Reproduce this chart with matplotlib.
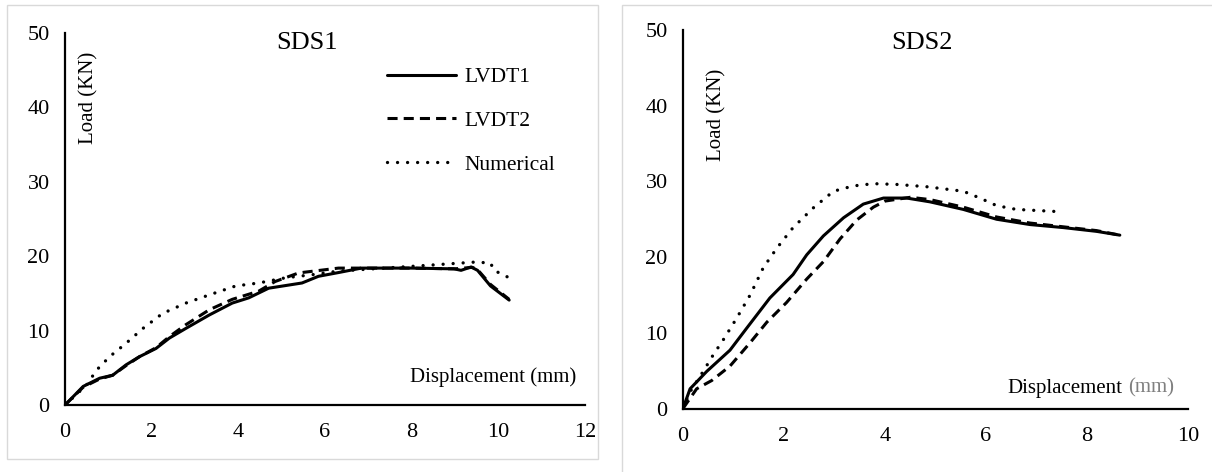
import matplotlib.pyplot as plt
from matplotlib.patches import Rectangle

plt.rcParams['font.family'] = ['Liberation Serif', 'DejaVu Serif']

# SDS1 data (displacement mm, load kN)
sds1_lvdt1_x = [0, 0.42, 0.80, 1.1, 1.41, 1.72, 2.1, 2.41, 2.79, 3.33, 3.86, 4.24, 4.70,
                5.47, 5.85, 6.31, 6.84, 7.99, 8.98, 9.14, 9.37, 9.52, 9.82, 10.25]
sds1_lvdt1_y = [0, 2.5, 3.6, 4.0, 5.4, 6.5, 7.6, 9.0, 10.3, 12.1, 13.7, 14.4, 15.7,
                16.4, 17.3, 17.8, 18.4, 18.4, 18.3, 18.1, 18.55, 18.1, 16.0, 14.1]
sds1_lvdt2_x = [0, 0.42, 0.80, 1.1, 1.41, 1.72, 2.1, 2.41, 2.79, 3.33, 3.86, 4.47, 4.85,
                5.39, 6.31, 7.0, 8.0, 9.0, 9.4, 9.52, 9.82, 10.25]
sds1_lvdt2_y = [0, 2.4, 3.5, 4.0, 5.3, 6.5, 7.7, 9.2, 10.8, 12.8, 14.2, 15.3, 16.6,
                17.75, 18.4, 18.4, 18.4, 18.3, 18.5, 18.2, 16.2, 14.2]
sds1_num_x = [0, 0.5, 0.73, 1.03, 1.41, 1.8, 2.25, 2.79, 3.33, 3.94, 4.47, 5.09, 5.69,
              6.31, 7.1, 7.91, 8.68, 9.44, 9.82, 9.9, 10.25]
sds1_num_y = [0, 2.7, 4.7, 6.5, 8.3, 10.3, 12.3, 13.7, 14.8, 16.0, 16.4, 17.1, 17.5,
              18.0, 18.3, 18.6, 18.9, 19.2, 19.1, 18.1, 17.1]

# SDS2 data
sds2_lvdt1_x = [0, 0.14, 0.47, 0.93, 1.26, 1.72, 2.18, 2.45, 2.78, 3.18, 3.57, 3.97,
                4.43, 4.89, 5.55, 6.21, 6.87, 7.53, 8.19, 8.65]
sds2_lvdt1_y = [0, 2.6, 4.9, 7.7, 10.6, 14.6, 17.7, 20.3, 22.8, 25.2, 27.0, 27.8,
                27.8, 27.3, 26.3, 25.0, 24.3, 23.9, 23.4, 22.9]
sds2_lvdt2_x = [0, 0.27, 0.57, 0.93, 1.33, 1.66, 2.05, 2.45, 2.78, 3.11, 3.44, 3.77,
                4.0, 4.5, 4.89, 5.55, 6.21, 6.87, 7.53, 8.19, 8.65]
sds2_lvdt2_y = [0, 2.6, 3.7, 5.6, 8.7, 11.4, 14.0, 17.1, 19.4, 22.4, 24.9, 26.6,
                27.4, 27.9, 27.6, 26.6, 25.3, 24.5, 24.0, 23.5, 22.9]
sds2_num_x = [0, 0.14, 0.4, 0.6, 0.8, 1.06, 1.33, 1.59, 1.86, 2.18, 2.58, 2.98, 3.37,
              3.77, 4.23, 4.82, 5.55, 5.88, 6.21, 6.6, 7.46]
sds2_num_y = [0, 2.2, 4.9, 7.1, 9.1, 11.9, 15.0, 18.6, 21.2, 23.9, 26.5, 28.7, 29.4,
              29.7, 29.6, 29.3, 28.7, 27.8, 26.8, 26.3, 26.0]

W, H = 1212, 472
fig = plt.figure(figsize=(W / 100, H / 100), dpi=100)

# panel frames
fig.patches.append(Rectangle((7 / W, 1 - 459 / H), 591 / W, 454 / H, transform=fig.transFigure,
                             fill=False, edgecolor='#d9d9d9', lw=1))
fig.patches.append(Rectangle((622 / W, -0.1), 0.6, 1 - 5 / H + 0.1, transform=fig.transFigure,
                             fill=False, edgecolor='#d9d9d9', lw=1))

solid = dict(color='black', lw=2.2, ls='-', solid_capstyle='round')
dashed = dict(color='black', lw=2.2, ls=(0, (3.3, 2.0)))
dotted = dict(color='black', lw=2.4, ls=(0, (0.01, 3.0)), dash_capstyle='round')


def style(ax, xmax, xstep):
    ax.set_xlim(0, xmax)
    ax.set_ylim(0, 50)
    ax.set_xticks(range(0, xmax + 1, xstep))
    ax.set_yticks(range(0, 51, 10))
    for s in ('top', 'right'):
        ax.spines[s].set_visible(False)
    for s in ('left', 'bottom'):
        ax.spines[s].set_linewidth(1.6)
    ax.tick_params(length=0, labelsize=16)
    ax.tick_params(axis='x', pad=13)
    ax.tick_params(axis='y', pad=11)
    ax.patch.set_alpha(0)


ax1 = fig.add_axes([65 / W, 1 - 405 / H, 520 / W, 372 / H])
ax1.plot(sds1_lvdt1_x, sds1_lvdt1_y, label='LVDT1', **solid)
ax1.plot(sds1_lvdt2_x, sds1_lvdt2_y, label='LVDT2', **dashed)
ax1.plot(sds1_num_x, sds1_num_y, label='Numerical', **dotted)
style(ax1, 12, 2)
ax1.text(0.465, 0.973, 'SDS1', transform=ax1.transAxes, ha='center', va='center', fontsize=19)
ax1.text(0.046, 0.825, 'Load (KN)', transform=ax1.transAxes, ha='center', va='center',
         rotation=90, fontsize=15)
ax1.text(0.824, 0.075, 'Displacement (mm)', transform=ax1.transAxes, ha='center', va='center',
         fontsize=15)
ax1.legend(loc='upper left', bbox_to_anchor=(387 / W, 1 - 67 / H), bbox_transform=fig.transFigure,
           frameon=False, fontsize=15.5, handlelength=3.2, handletextpad=0.4, labelspacing=1.1,
           borderpad=0, borderaxespad=0)

ax2 = fig.add_axes([683 / W, 1 - 408.5 / H, 505 / W, 378.5 / H])
ax2.plot(sds2_lvdt1_x, sds2_lvdt1_y, **solid)
ax2.plot(sds2_lvdt2_x, sds2_lvdt2_y, **dashed)
ax2.plot(sds2_num_x, sds2_num_y, **dotted)
style(ax2, 10, 2)
ax2.text(0.473, 0.966, 'SDS2', transform=ax2.transAxes, ha='center', va='center', fontsize=19)
ax2.text(0.067, 0.775, 'Load (KN)', transform=ax2.transAxes, ha='center', va='center',
         rotation=90, fontsize=15)
ax2.text(0.871, 0.054, 'Displacement', transform=ax2.transAxes, ha='right', va='center',
         fontsize=15)
ax2.text(0.881, 0.054, '(mm)', transform=ax2.transAxes, ha='left', va='center',
         fontsize=15, color='#808080')

fig.savefig('out.png', dpi=100)
